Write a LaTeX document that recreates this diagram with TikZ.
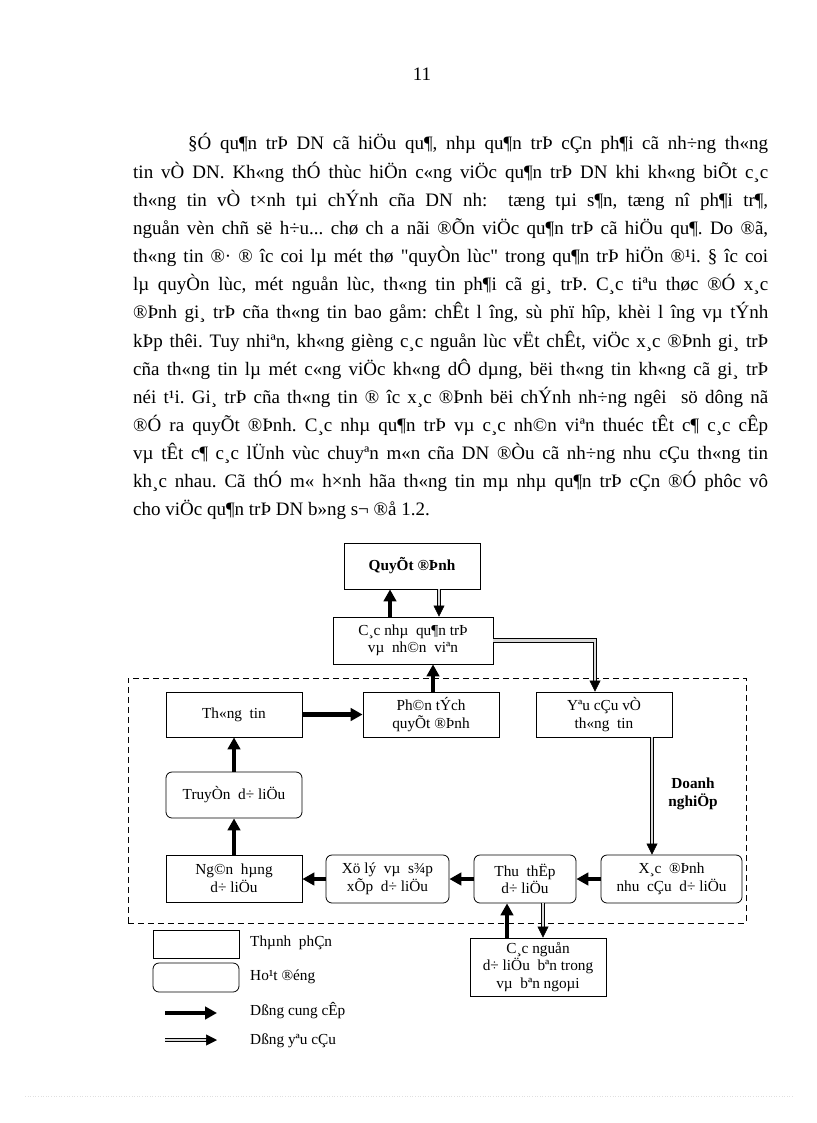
\documentclass[tikz,border=0pt]{standalone}
\usepackage{fontspec}
\setmainfont{Liberation Serif}
\usetikzlibrary{arrows.meta,calc}
\newcommand\bodyfont{\fontsize{19}{28}\selectfont\frenchspacing}
\newcommand\dfont{\fontsize{15.3}{17.5}\selectfont}
\newcommand\dbfont{\fontsize{15.3}{18.5}\selectfont\bfseries}
\begin{document}
\begin{tikzpicture}[x=1pt,y=-1pt,
  comp/.style={draw, line width=0.8pt, align=center, font=\dfont, inner sep=0pt},
  act/.style={comp, rounded corners=6pt},
  supply/.style={line width=4.2pt, -{Triangle[length=12pt,width=12.5pt]}},
  reqline/.style={line width=1pt, double=black!15, double distance=2.4pt, shorten >=10pt},
  reqtip/.style={line width=0.5pt, -{Triangle[length=11pt,width=11pt]}},
  bline/.style={anchor=base west, inner sep=0pt, font=\bodyfont}]
\useasboundingbox (0,0) rectangle (816,1123);

% page number
\node[font=\bodyfont, anchor=base, inner sep=0pt] (pg) at (422,81) {11};

% body text
\node[bline] (l1) at (188,150) {\makebox[580pt][s]{§Ó qu¶n trÞ DN cã hiÖu qu¶, nhµ qu¶n trÞ cÇn ph¶i cã nh÷ng th«ng}};
\node[bline] (l2) at (133,178.15) {\makebox[635pt][s]{tin vÒ DN. Kh«ng thÓ thùc hiÖn c«ng viÖc qu¶n trÞ DN khi kh«ng biÕt c¸c}};
\node[bline] (l3) at (133,206.3) {\makebox[635pt][s]{th«ng tin vÒ t×nh tµi chÝnh cña DN nh:\ \ tæng tµi s¶n, tæng nî ph¶i tr¶,}};
\node[bline] (l4) at (133,234.45) {\makebox[635pt][s]{nguån vèn chñ së h÷u... chø ch a nãi ®Õn viÖc qu¶n trÞ cã hiÖu qu¶. Do ®ã,}};
\node[bline] (l5) at (133,262.6) {\makebox[635pt][s]{th«ng tin ®· ® îc coi lµ mét thø \textquotedbl quyÒn lùc\textquotedbl{} trong qu¶n trÞ hiÖn ®¹i. § îc coi}};
\node[bline] (l6) at (133,290.75) {\makebox[635pt][s]{lµ quyÒn lùc, mét nguån lùc, th«ng tin ph¶i cã gi¸ trÞ. C¸c tiªu thøc ®Ó x¸c}};
\node[bline] (l7) at (133,318.9) {\makebox[635pt][s]{®Þnh gi¸ trÞ cña th«ng tin bao gåm: chÊt l îng, sù phï hîp, khèi l îng vµ tÝnh}};
\node[bline] (l8) at (133,347.05) {\makebox[635pt][s]{kÞp thêi. Tuy nhiªn, kh«ng gièng c¸c nguån lùc vËt chÊt, viÖc x¸c ®Þnh gi¸ trÞ}};
\node[bline] (l9) at (133,375.2) {\makebox[635pt][s]{cña th«ng tin lµ mét c«ng viÖc kh«ng dÔ dµng, bëi th«ng tin kh«ng cã gi¸ trÞ}};
\node[bline] (l10) at (133,403.35) {\makebox[635pt][s]{néi t¹i. Gi¸ trÞ cña th«ng tin ® îc x¸c ®Þnh bëi chÝnh nh÷ng ngêi\ \ sö dông nã}};
\node[bline] (l11) at (133,431.5) {\makebox[635pt][s]{®Ó ra quyÕt ®Þnh. C¸c nhµ qu¶n trÞ vµ c¸c nh©n viªn thuéc tÊt c¶ c¸c cÊp}};
\node[bline] (l12) at (133,459.65) {\makebox[635pt][s]{vµ tÊt c¶ c¸c lÜnh vùc chuyªn m«n cña DN ®Òu cã nh÷ng nhu cÇu th«ng tin}};
\node[bline] (l13) at (133,487.8) {\makebox[635pt][s]{kh¸c nhau. Cã thÓ m« h×nh hãa th«ng tin mµ nhµ qu¶n trÞ cÇn ®Ó phôc vô}};
\node[bline] (l14) at (133,515.95) {cho viÖc qu¶n trÞ DN b»ng s¬ ®å 1.2.};

% enterprise boundary
\node[draw, dashed, dash pattern=on 6pt off 4pt, line width=0.8pt, minimum width=618pt, minimum height=245pt, inner sep=0pt] (dn) at (437,800.5) {};
\node[font=\dbfont, align=center, inner sep=0pt] (dnl) at (693,794) {Doanh\\nghiÖp};

% boxes
\node[comp, font=\dbfont, minimum width=136pt, minimum height=46pt] (qd) at (412,566) {QuyÕt\ ®Þnh};
\node[comp, minimum width=160pt, minimum height=47pt] (cnq) at (413,640.5) {C¸c nhµ\ \ qu¶n trÞ\\vµ\ \ nh©n\ \ viªn};
\node[comp, minimum width=136pt, minimum height=45pt] (pt) at (431,714.5) {Ph©n tÝch\\quyÕt\ ®Þnh};
\node[comp, minimum width=136pt, minimum height=45pt] (tt) at (234,714.5) {Th«ng\ \ tin};
\node[comp, minimum width=136pt, minimum height=45pt] (yc) at (604,714.5) {Yªu cÇu vÒ\\th«ng\ \ tin};
\node[act, minimum width=136pt, minimum height=46pt] (tr) at (234,795) {TruyÒn\ \ d÷ liÖu};
\node[comp, minimum width=136pt, minimum height=47pt] (nh) at (234,878.5) {Ng©n\ \ hµng\\d÷ liÖu};
\node[act, minimum width=123pt, minimum height=48pt] (xl) at (387.5,879) {Xö lý\ \ vµ\ \ s¾p\\xÕp\ \ d÷ liÖu};
\node[act, minimum width=102pt, minimum height=48pt] (th) at (525,879) {Thu\ \ thËp\\d÷ liÖu};
\node[act, minimum width=141pt, minimum height=48pt] (xd) at (671.5,879) {X¸c\ \ ®Þnh\\nhu\ \ cÇu\ \ d÷ liÖu};
\node[comp, minimum width=136pt, minimum height=58pt] (cn) at (538,967) {C¸c nguån\\d÷ liÖu\ \ bªn trong\\vµ\ \ bªn ngoµi};

% x positions
\coordinate (x390) at (390,0);
\coordinate (x439) at (439,0);
\coordinate (x433) at (433,0);
\coordinate (x595) at (595,0);
\coordinate (x652) at (652,0);
\coordinate (x507) at (507,0);
\coordinate (x543) at (543,0);

% supply flows
\draw[supply] (cnq.north -| x390) -- (qd.south -| x390);
\draw[supply] (pt.north -| x433) -- (cnq.south -| x433);
\draw[supply] (tt.east) -- (pt.west);
\draw[supply] (tr.north) -- (tt.south);
\draw[supply] (nh.north) -- (tr.south);
\draw[supply] (xl.west) -- (xl.west -| nh.east);
\draw[supply] (th.west) -- (xl.east);
\draw[supply] (xd.west) -- (th.east);
\draw[supply] (cn.north -| x507) -- (th.south -| x507);

% request flows
\draw[reqline] (qd.south -| x439) -- (cnq.north -| x439);
\draw[reqtip] ($(cnq.north -| x439)+(0,-11)$) -- (cnq.north -| x439);
\draw[reqline] (cnq.east) -| (yc.north -| x595);
\draw[reqtip] ($(yc.north -| x595)+(0,-11)$) -- (yc.north -| x595);
\draw[reqline] (yc.south -| x652) -- (xd.north -| x652);
\draw[reqtip] ($(xd.north -| x652)+(0,-11)$) -- (xd.north -| x652);
\draw[reqline] (th.south -| x543) -- (cn.north -| x543);
\draw[reqtip] ($(cn.north -| x543)+(0,-11)$) -- (cn.north -| x543);

% legend
\node[comp, minimum width=86pt, minimum height=28pt] (lg1) at (196,944) {};
\node[act, minimum width=86pt, minimum height=29pt] (lg2) at (196,977.5) {};
\coordinate (la1) at (165,1013);
\coordinate (la2) at (217,1013);
\coordinate (lb1) at (165,1040);
\coordinate (lb2) at (217,1040);
\draw[supply] (la1) -- (la2);
\draw[reqline] (lb1) -- (lb2);
\draw[reqtip] ($(lb2)+(-11,0)$) -- (lb2);
\node[font=\dfont, anchor=west, inner sep=0pt] (lt1) at (250,943) {Thµnh\ \ phÇn};
\node[font=\dfont, anchor=west, inner sep=0pt] (lt2) at (250,977) {Ho¹t ®éng};
\node[font=\dfont, anchor=west, inner sep=0pt] (lt3) at (250,1011) {Dßng cung cÊp};
\node[font=\dfont, anchor=west, inner sep=0pt] (lt4) at (250,1041) {Dßng yªu cÇu};

% faint bottom rule
\draw[black!12, dotted, line width=0.6pt] (25,1096) -- (793,1096);
\end{tikzpicture}
\end{document}
